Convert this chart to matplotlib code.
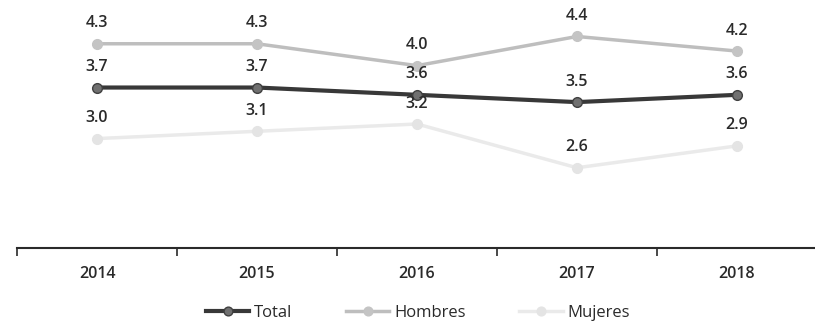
import matplotlib
matplotlib.use("Agg")
import matplotlib.pyplot as plt

years = ["2014", "2015", "2016", "2017", "2018"]
total = [3.7, 3.7, 3.6, 3.5, 3.6]
hombres = [4.3, 4.3, 4.0, 4.4, 4.2]
mujeres = [3.0, 3.1, 3.2, 2.6, 2.9]

plt.rcParams['font.family'] = ['Open Sans', 'DejaVu Sans']

fig = plt.figure(figsize=(8.15, 3.22), dpi=100)
ax = fig.add_axes([17/815, 1 - 248/322, 800/815, 248/322])

x = list(range(len(years)))
series = [
    ("Total", total, "#383838", "#707070", "#404040", 3),
    ("Hombres", hombres, "#bebebe", "#c4c4c4", "#c4c4c4", 2.5),
    ("Mujeres", mujeres, "#eaeaea", "#e4e4e4", "#e4e4e4", 2.5),
]
for name, vals, lc, mc, me, lw in series:
    ax.plot(x, vals, color=lc, lw=lw, marker='o', ms=7, mfc=mc, mec=me,
            label=name, clip_on=False, zorder=3)

lab_kw = dict(textcoords='offset points', ha='center', va='bottom', fontsize=11.5,
              fontweight='semibold', color='#2a2a2a', annotation_clip=False)
for vals in (hombres, total, mujeres):
    for i, v in enumerate(vals):
        ax.annotate(f"{v:.1f}", (i, v), xytext=(0, 9), **lab_kw)

ax.set_xlim(-0.5, 4.5)
ax.set_ylim(1.5, 4.9)
for s in ['top', 'right', 'left']:
    ax.spines[s].set_visible(False)
ax.spines['bottom'].set_color('#2a2a2a')
ax.spines['bottom'].set_linewidth(1.5)
ax.set_yticks([])
ax.set_xticks([i - 0.5 for i in range(6)], minor=False)
ax.set_xticklabels([])
ax.set_xticks(x, minor=True)
ax.set_xticklabels(years, minor=True, fontsize=11.5, fontweight='semibold', color='#2a2a2a')
ax.tick_params(axis='x', which='major', length=6, color='#2a2a2a', width=1.2)
ax.tick_params(axis='x', which='minor', length=0, pad=13)

leg = fig.legend(loc='center', bbox_to_anchor=(418/815, 1 - 313/322), ncol=3, frameon=False,
                 fontsize=12, handlelength=2.6, columnspacing=3.2, handletextpad=0.3,
                 markerscale=0.9)
for t in leg.get_texts():
    t.set_color('#2a2a2a')

fig.savefig("out.png", dpi=100)
